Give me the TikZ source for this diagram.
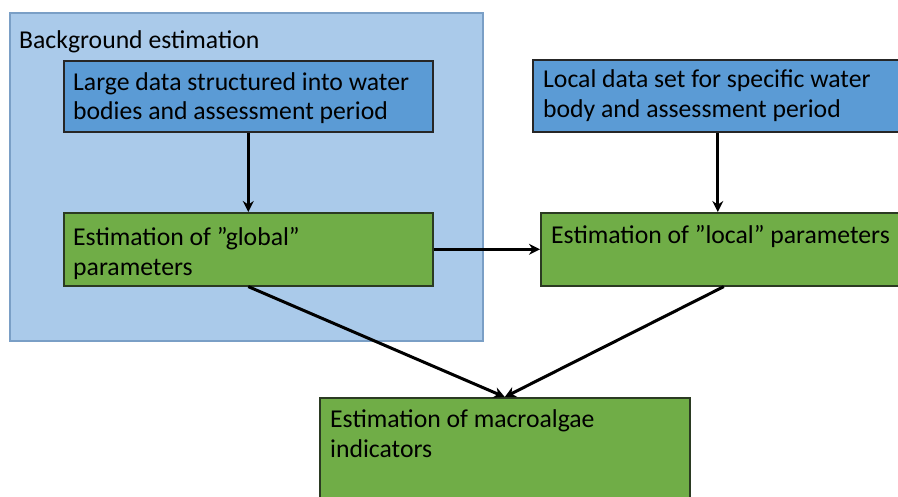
\documentclass[tikz,border=0pt]{standalone}
\usepackage{fontspec}
\setmainfont{Carlito}
\usetikzlibrary{arrows.meta}
\definecolor{bgblue}{HTML}{AACAEA}
\definecolor{bgedge}{HTML}{7A9FC6}
\definecolor{boxblue}{HTML}{5B9BD5}
\definecolor{boxgreen}{HTML}{70AD47}
\definecolor{edgedark}{HTML}{2B3A22}
\tikzset{
  bgpanel/.style={draw=bgedge, fill=bgblue, line width=1.5pt, inner sep=0pt, anchor=north west},
  bluebox/.style={draw=black!85, fill=boxblue, line width=1.6pt, inner sep=0pt, anchor=north west},
  greenbox/.style={draw=edgedark, fill=boxgreen, line width=1.6pt, inner sep=0pt, anchor=north west},
  txt/.style={inner sep=0pt, anchor=base west, align=left, font=\fontsize{25.7}{29.5}\selectfont},
  conn/.style={line width=3pt, -{Stealth[length=11pt,width=11pt]}},
}
\begin{document}
\begin{tikzpicture}[x=1pt,y=-1pt]
\useasboundingbox (0,0) rectangle (898,496);
\node[bgpanel, minimum width=473pt, minimum height=328pt] (bg) at (9,12) {};
\node[txt] (bgt) at (19,48) {Background estimation};
\node[bluebox, minimum width=369pt, minimum height=71pt] (b1) at (63,60) {};
\node[txt] (b1t) at (73,119.5) {Large data structured into water\\bodies and assessment period};
\node[bluebox, minimum width=370pt, minimum height=72pt] (b2) at (532,59) {};
\node[txt] (b2t) at (543,117) {Local data set for specific water\\body and assessment period};
\node[greenbox, minimum width=369pt, minimum height=73pt] (g1) at (63,212) {};
\node[txt] (g1t) at (73,275) {Estimation of ”global”\\parameters};
\node[greenbox, minimum width=366pt, minimum height=73pt] (l1) at (540,212) {};
\node[txt] (l1t) at (551,243) {Estimation of ”local” parameters};
\node[greenbox, minimum width=370pt, minimum height=120pt] (m) at (319,397) {};
\node[txt] (mt) at (330,457) {Estimation of macroalgae\\indicators};
\draw[conn] (b1.south) -- (g1.north);
\draw[conn] (b2.south) -- (b2.south |- l1.north);
\draw[conn] (g1.east) -- (l1.west);
\draw[conn] (g1.south) -- (m.north);
\draw[conn] (l1.south) -- (m.north);
\end{tikzpicture}
\end{document}
